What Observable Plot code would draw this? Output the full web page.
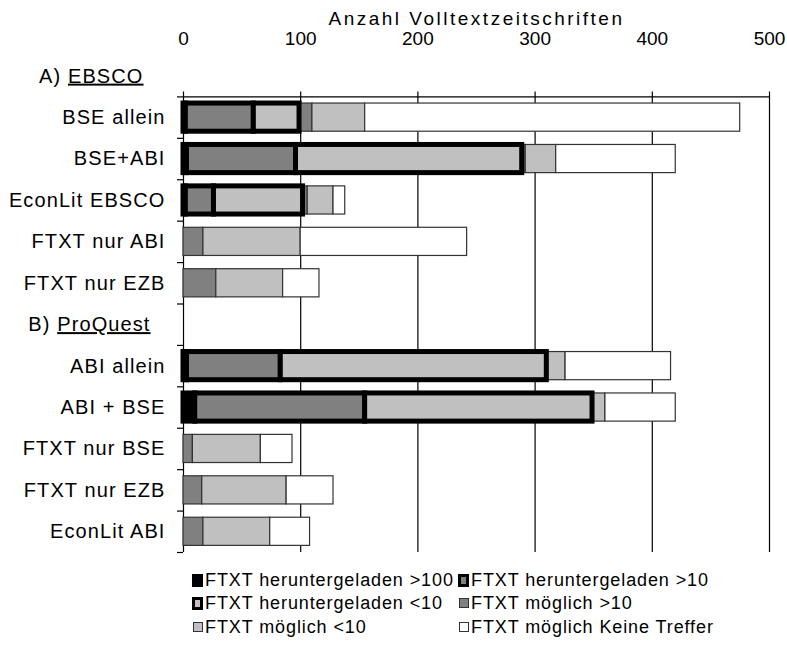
<!DOCTYPE html>
<html><head><meta charset="utf-8">
<script src="https://cdn.jsdelivr.net/npm/d3@7"></script>
<script src="https://cdn.jsdelivr.net/npm/@observablehq/plot@0.6"></script>
<style>
body{margin:0;background:#fff;font-family:"Liberation Sans",Arial,sans-serif;}
#legend{position:relative;height:88px;font-size:18px;color:#000;}
.item{position:absolute;display:flex;align-items:center;letter-spacing:0.9px;white-space:nowrap;height:22px;}
.sw{display:inline-block;box-sizing:border-box;margin-right:2px;}
</style></head><body>
<div id="chart"></div><div id="legend"></div>
<script>
const categories = ["A) EBSCO","BSE allein","BSE+ABI","EconLit EBSCO","FTXT nur ABI","FTXT nur EZB","B) ProQuest","ABI allein","ABI + BSE","FTXT nur BSE","FTXT nur EZB","EconLit ABI"];
const headers = ["A) EBSCO","B) ProQuest"];
const seriesNames = ["FTXT heruntergeladen >100","FTXT heruntergeladen >10","FTXT heruntergeladen <10","FTXT möglich >10","FTXT möglich <10","FTXT möglich Keine Treffer"];
const dl100  = [0, 2,   3,  2,   0,  0, 0,   3,  10,  0,  0,  0];
const dl10   = [0, 58, 93, 24,   0,  0, 0,  80, 145,  0,  0,  0];
const dlLt10 = [0, 39, 193, 76,  0,  0, 0, 227, 194,  0,  0,  0];
const mg10   = [0, 11,  3,  4,  17, 28, 0,   1,   1,  8, 16, 17];
const mgLt10 = [0, 45, 26, 22,  83, 57, 0,  15,  10, 58, 72, 57];
const kt     = [0, 320, 102, 10, 142, 31, 0, 90,  60, 27, 40, 34];
const xTicks = [0, 100, 200, 300, 400, 500];
const axisTitle = "Anzahl Volltextzeitschriften";

const seriesValues = [dl100, dl10, dlLt10, mg10, mgLt10, kt];
const fills = ["#000000","#808080","#c0c0c0","#808080","#c0c0c0","#ffffff"];

const segments = [];
categories.forEach((c, i) => {
  let acc = 0;
  seriesValues.forEach((arr, k) => {
    const v = arr[i];
    if (v > 0) segments.push({row: i, series: seriesNames[k], k, x1: acc, x2: acc + v});
    acc += v;
  });
});
const plain = segments.filter(d => d.k >= 3);
const dl = segments.filter(d => d.k < 3);
const rowIdx = categories.map((c, i) => i);
const normalRows = rowIdx.filter(i => !headers.includes(categories[i]));
const boundaries = rowIdx.map(i => i + 0.5);
const half = 0.34;

const chart = Plot.plot({
  width: 787, height: 560,
  marginLeft: 183, marginRight: 18, marginTop: 55, marginBottom: 8,
  x: {domain: [0, 500], axis: null},
  y: {domain: [-0.5, 11.5], reverse: true, axis: null},
  color: {domain: seriesNames, range: fills},
  style: {fontFamily: "'Liberation Sans', Arial, sans-serif", fontSize: "20px", color: "#000", background: "#fff"},
  marks: [
    Plot.ruleX(xTicks, {x: d => d, y1: 0.5, y2: 11.5, insetTop: -5, stroke: "#000", strokeWidth: 1.2}),
    Plot.ruleY([0.5], {y: d => d, x1: 0, x2: 500, stroke: "#000", strokeWidth: 1.2}),
    Plot.ruleY(boundaries, {y: d => d, x1: 0, x2: 0, insetLeft: -6, stroke: "#000", strokeWidth: 1.2}),
    Plot.rect(plain, {x1: "x1", x2: "x2", y1: d => d.row - half, y2: d => d.row + half, fill: "series", stroke: "#333", strokeWidth: 1.2}),
    Plot.rect(dl, {x1: "x1", x2: "x2", y1: d => d.row - half, y2: d => d.row + half, fill: "series", stroke: "#000", strokeWidth: 5}),
    Plot.text(normalRows, {x: 0, y: d => d, text: d => categories[d], textAnchor: "end", dx: -18, fill: "#000", fontSize: 20}),
    Plot.text([headers[0]], {x: 0, y: () => categories.indexOf(headers[0]), text: d => d, textAnchor: "end", dx: -40, fill: "#000", fontSize: 20}),
    Plot.text([headers[1]], {x: 0, y: () => categories.indexOf(headers[1]), text: d => d, textAnchor: "end", dx: -33, fill: "#000", fontSize: 20}),
    Plot.text(xTicks, {x: d => d, y: -0.5, dy: -17, text: d => String(d), fill: "#000", fontSize: 19}),
    Plot.text([axisTitle], {frameAnchor: "top", lineAnchor: "middle", dy: -37, text: d => d, fill: "#000", fontSize: 19})
  ]
});
document.getElementById("chart").appendChild(chart);

const texts = d3.select(chart).selectAll("text");
texts.filter(function() { return categories.includes(this.textContent); }).style("letter-spacing", "1.1px");
texts.filter(function() { return this.textContent === axisTitle; }).style("letter-spacing", "2.5px");

// underline the section names
texts.filter(function() { return headers.includes(this.textContent); }).each(function() {
  const t = this.textContent;
  const idx = t.indexOf(" ");
  const sel = d3.select(this);
  sel.text(null);
  sel.append("tspan").text(t.slice(0, idx + 1));
  sel.append("tspan").style("text-decoration", "underline").text(t.slice(idx + 1));
});

// legend
const legendPos = [
  {left: 192, top: 9}, {left: 458, top: 9},
  {left: 192, top: 32}, {left: 459, top: 32},
  {left: 193, top: 56}, {left: 459, top: 56}
];
const swatchStyle = [
  "width:11px;height:13px;background:#000;",
  "width:11px;height:13px;background:#808080;border:3px solid #000;",
  "width:11px;height:13px;background:#c0c0c0;border:3px solid #000;",
  "width:10px;height:10px;background:#808080;border:1px solid #333;",
  "width:10px;height:10px;background:#c0c0c0;border:1px solid #333;",
  "width:10px;height:10px;background:#fff;border:1px solid #333;"
];
const legend = d3.select("#legend");
seriesNames.forEach((name, k) => {
  const it = legend.append("div").attr("class", "item").style("left", legendPos[k].left + "px").style("top", legendPos[k].top + "px");
  it.append("span").attr("class", "sw").attr("style", swatchStyle[k]);
  it.append("span").text(name);
});
</script>
</body></html>
